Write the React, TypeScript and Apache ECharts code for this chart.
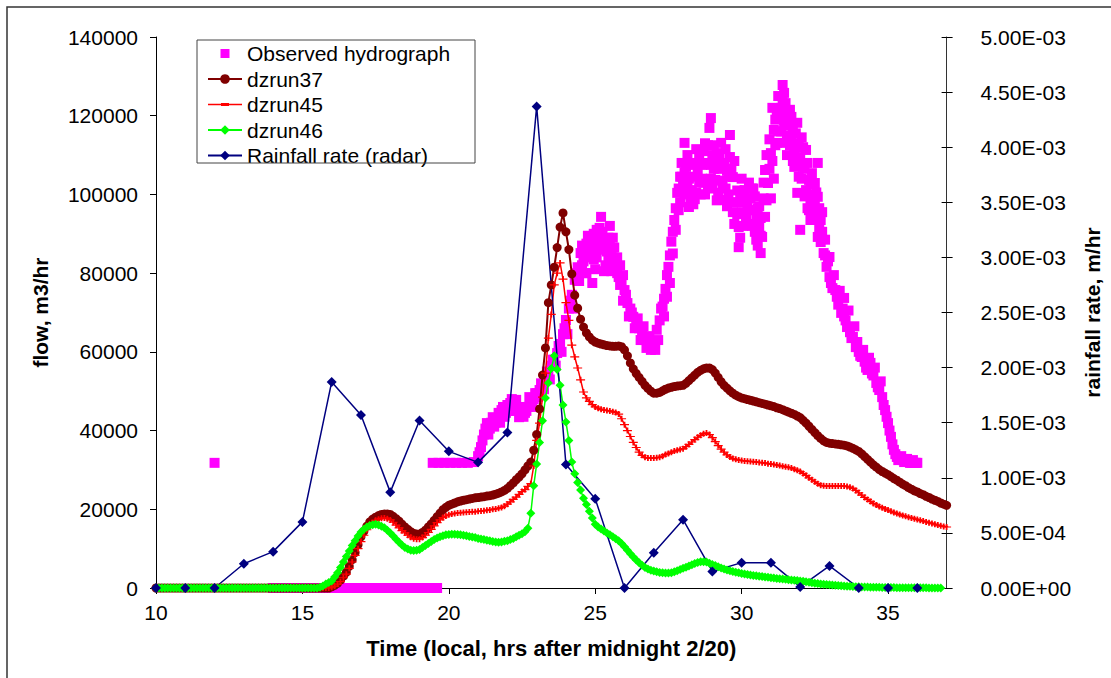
import React, { useEffect, useRef } from "react";
import * as echarts from "echarts";

// ---------- DATA ----------
// model output every 0.1 h from 10.0 to 37.0 (one row = one hour)
const modelTimes = Array.from({ length: 271 }, (_, i) => (100 + i) / 10);

const dzrun37 = [
  0, 0, 0, 0, 0, 0, 0, 0, 0, 0,
  0, 0, 0, 0, 0, 0, 0, 0, 0, 0,
  0, 0, 0, 0, 0, 0, 0, 0, 0, 0,
  0, 0, 0, 0, 0, 0, 0, 0, 0, 0,
  0, 0, 0, 0, 0, 0, 0, 0, 0, 0,
  0, 0, 0, 0, 0, 0, 0, 0, 0, 0,
  300, 700, 1200, 2000, 3000, 4000, 5500, 7200, 9000, 11000,
  13000, 14400, 15700, 16800, 17500, 18000, 18400, 18700, 18800, 18800,
  18700, 18200, 17600, 17000, 16200, 15500, 14900, 14300, 13900, 13700,
  13700, 14100, 14700, 15500, 16300, 17200, 18100, 19000, 19900, 20500,
  21000, 21300, 21600, 21900, 22100, 22300, 22450, 22600, 22750, 22900,
  23000, 23100, 23200, 23350, 23450, 23600, 23850, 24100, 24400, 24800,
  25300, 26000, 26700, 27500, 28200, 29000, 30000, 31000, 32000, 35000,
  39000, 45500, 54100, 61000, 72500, 77000, 81500, 86500, 91700, 95300,
  90500, 86000, 79800, 74400, 71100, 68300, 66300, 64800, 63800, 63000,
  62500, 62200, 62000, 61800, 61600, 61500, 61400, 61400, 61500, 61300,
  60500, 59000, 57200, 55700, 54500, 53500, 52500, 51500, 50700, 50000,
  49500, 49500, 49700, 50100, 50500, 50800, 51000, 51200, 51300, 51400,
  51500, 52000, 52700, 53400, 54100, 54800, 55300, 55700, 55900, 55900,
  55500, 54600, 53500, 52400, 51500, 50800, 50100, 49500, 49000, 48600,
  48300, 48100, 47900, 47700, 47500, 47300, 47100, 46900, 46700, 46500,
  46300, 46100, 45800, 45600, 45300, 45000, 44700, 44400, 44100, 43700,
  43300, 42600, 41900, 41100, 40300, 39500, 38700, 38000, 37400, 37000,
  36800, 36700, 36600, 36500, 36400, 36300, 36100, 35800, 35500, 35100,
  34700, 34100, 33400, 32700, 32000, 31300, 30700, 30100, 29600, 29200,
  28800, 28300, 27800, 27400, 26900, 26400, 26000, 25500, 25100, 24700,
  24400, 24000, 23700, 23300, 23000, 22600, 22300, 22000, 21600, 21300,
  21000,
];

const dzrun45 = [
  0, 0, 0, 0, 0, 0, 0, 0, 0, 0,
  0, 0, 0, 0, 0, 0, 0, 0, 0, 0,
  0, 0, 0, 0, 0, 0, 0, 0, 0, 0,
  0, 0, 0, 0, 0, 0, 0, 0, 0, 0,
  0, 0, 0, 0, 0, 0, 0, 0, 0, 0,
  0, 0, 0, 0, 0, 0, 0, 0, 0, 0,
  200, 500, 1000, 1600, 2600, 3500, 5000, 6600, 8300, 10000,
  11800, 13400, 14800, 15800, 16600, 17200, 17500, 17700, 17800, 17600,
  17300, 16700, 16000, 15300, 14600, 14000, 13400, 12900, 12500, 12400,
  12400, 12800, 13400, 14100, 14900, 15800, 16600, 17300, 17900, 18300,
  18600, 18800, 18950, 19050, 19150, 19200, 19250, 19300, 19350, 19400,
  19500, 19550, 19650, 19750, 19850, 20000, 20100, 20250, 20450, 20800,
  21300, 21900, 22500, 23100, 23800, 24500, 25000, 25800, 26500, 31000,
  37500, 41900, 48500, 54600, 63500, 69500, 77000, 80000, 82600, 78500,
  72500, 68000, 61700, 58700, 55900, 52900, 49800, 48300, 47400, 46600,
  46000, 45700, 45400, 45200, 45100, 45000, 44800, 44600, 44200, 43000,
  41500, 40000, 38500, 37000, 35700, 34500, 33700, 33200, 33000, 33000,
  33000, 33100, 33200, 33500, 33900, 34200, 34500, 34800, 35000, 35200,
  35400, 35900, 36500, 37100, 37700, 38300, 38800, 39200, 39400, 39000,
  38200, 37200, 36200, 35300, 34500, 33800, 33300, 32900, 32700, 32500,
  32400, 32300, 32200, 32150, 32100, 32000, 31900, 31850, 31750, 31600,
  31500, 31400, 31250, 31100, 30950, 30800, 30650, 30500, 30200, 29900,
  29600, 29100, 28600, 28000, 27500, 27000, 26500, 26100, 25950, 25900,
  25900, 25900, 25900, 25900, 25900, 25900, 25800, 25600, 25300, 24800,
  24200, 23600, 23000, 22500, 22000, 21500, 21100, 20700, 20400, 20100,
  19800, 19500, 19200, 18900, 18700, 18400, 18200, 18000, 17800, 17600,
  17400, 17200, 17000, 16800, 16600, 16400, 16200, 16000, 15800, 15650,
  15500,
];

const dzrun46 = [
  0, 0, 0, 0, 0, 0, 0, 0, 0, 0,
  0, 0, 0, 0, 0, 0, 0, 0, 0, 0,
  0, 0, 0, 0, 0, 0, 0, 0, 0, 0,
  0, 0, 0, 0, 0, 0, 0, 0, 0, 0,
  0, 0, 0, 0, 0, 0, 0, 0, 0, 0,
  0, 0, 0, 0, 0, 0, 200, 500, 1000, 1400,
  1800, 2800, 3900, 5200, 6600, 8000, 9400, 10800, 12000, 13200,
  14200, 14900, 15500, 15900, 16100, 16200, 16000, 15700, 15300, 14700,
  14000, 13200, 12400, 11600, 10900, 10300, 9900, 9600, 9500, 9600,
  9800, 10300, 10800, 11300, 11800, 12300, 12700, 13000, 13300, 13500,
  13600, 13650, 13650, 13600, 13500, 13400, 13250, 13100, 12950, 12800,
  12600, 12450, 12300, 12150, 12000, 11800, 11700, 11600, 11700, 11850,
  12000, 12300, 12600, 13000, 13400, 13800, 14300, 15200, 19000, 26000,
  31500, 37000, 42500, 48300, 52100, 55800, 59000, 55500, 51500, 46500,
  42200, 37500, 32000, 29000, 26800, 24900, 22800, 21200, 19500, 17800,
  16200, 15500, 15000, 14500, 14000, 13500, 13000, 12500, 12000, 11300,
  10500, 9600, 8700, 7900, 7100, 6400, 5800, 5200, 4800, 4500,
  4300, 4100, 3950, 3850, 3800, 3800, 3900, 4100, 4400, 4700,
  5000, 5300, 5600, 5900, 6200, 6500, 6650, 6700, 6600, 6300,
  6000, 5700, 5400, 5100, 4850, 4600, 4400, 4200, 4000, 3850,
  3700, 3550, 3450, 3300, 3200, 3100, 3000, 2900, 2800, 2700,
  2600, 2520, 2440, 2360, 2280, 2200, 2120, 2040, 1960, 1880,
  1800, 1700, 1580, 1460, 1340, 1220, 1120, 1040, 960, 880,
  800, 740, 680, 620, 560, 500, 460, 420, 380, 340,
  300, 280, 260, 240, 220, 200, 180, 160, 150, 130,
  120, 110, 100, 90, 85, 80, 70, 60, 55, 50,
  50, 45, 40, 35, 30, 30, 25, 20, 20, null,
  null,
];

const rainTimes = [10, 11, 12, 13, 14, 15, 16, 17, 18, 19, 20, 21, 22, 23, 24, 25, 26, 27, 28, 29, 30, 31, 32, 33, 34, 35, 36];
const rainRate = [
  0, 0, 0, 0.00022, 0.00033, 0.0006, 0.00187, 0.00157, 0.00087, 0.00152, 0.00124, 0.00114, 0.00141, 0.00437,
  0.00112, 0.00081, 0, 0.00032, 0.00062, 0.00015, 0.00023, 0.00023, 0.00001, 0.0002, 0, 0, 0,
];

const observedLow: [number, number][] = [
  [12, 31800],
  [14, 0], [14.2, 0], [14.4, 0], [14.6, 0], [14.8, 0], [15, 0], [15.2, 0], [15.4, 0], [15.6, 0], [15.8, 0],
  [16, 0], [16.2, 0], [16.4, 0], [16.6, 0], [16.8, 0], [17, 0], [17.2, 0], [17.4, 0], [17.6, 0], [17.8, 0],
  [18, 0], [18.2, 0], [18.4, 0], [18.6, 0], [18.8, 0], [19, 0], [19.2, 0], [19.4, 0], [19.6, 0],
  [19.45, 31800], [19.65, 31800], [19.85, 31800], [20.05, 31800], [20.25, 31800], [20.45, 31800], [20.65, 31800], [20.85, 32000], [21.0, 33500],
];

const observedMain: [number, number][] = [
  [21.1, 35800], [21.2, 39000], [21.3, 41900], [21.4, 40500], [21.5, 43400], [21.6, 42000], [21.7, 44500], [21.8, 45200], [21.9, 43500], [22.0, 46500],
  [22.1, 47000], [22.2, 45000], [22.3, 47800], [22.4, 43400], [22.5, 44500], [22.6, 44500], [22.7, 46000], [22.8, 47000], [22.9, 48000], [23.0, 49500],
  [23.1, 50300], [23.2, 51500], [23.3, 53000], [23.4, 54600], [23.5, 56500], [23.6, 58000], [23.7, 59700], [23.8, 62000], [23.9, 64500], [24.0, 68100],
  [24.1, 71000], [24.2, 74500], [24.3, 78300], [24.4, 81500], [24.5, 85100], [24.6, 83000], [24.7, 87500], [24.8, 89200], [24.9, 77500], [25.0, 88000],
  [25.1, 86000], [25.2, 94300], [25.3, 88400], [25.4, 85500], [25.5, 87000], [25.6, 84000], [25.7, 82600], [25.8, 79000], [25.9, 77500], [26.0, 75700],
  [26.1, 72400], [26.2, 71000], [26.3, 68900], [26.4, 67500], [26.5, 66000], [26.6, 65000], [26.7, 63000], [26.8, 62200], [26.9, 60500], [27.0, 62000],
  [27.1, 65600], [27.2, 68000], [27.3, 71500], [27.4, 76000], [27.5, 81600], [27.6, 88000], [27.7, 93500], [27.8, 100400], [27.9, 98000], [28.0, 102900],
  [28.1, 107000], [28.2, 104000], [28.3, 101100], [28.4, 108000], [28.5, 106200], [28.6, 111300], [28.7, 103000], [28.8, 108000], [28.9, 116900], [29.0, 110000],
  [29.1, 103700], [29.2, 100400], [29.3, 113100], [29.4, 98600], [29.5, 106000], [29.6, 109500], [29.7, 104400], [29.8, 98000], [29.9, 91700], [30.0, 95500],
  [30.1, 101100], [30.2, 97800], [30.3, 99000], [30.4, 96000], [30.5, 94300], [30.6, 91700], [30.7, 89200], [30.8, 94300], [30.9, 102900], [31.0, 110500],
  [31.1, 116400], [31.2, 120700], [31.3, 119700], [31.4, 124000], [31.5, 123200], [31.6, 118200], [31.7, 114600], [31.8, 111300], [31.9, 118200], [32.0, 109500],
  [32.1, 107000], [32.2, 111300], [32.3, 103700], [32.4, 105400], [32.5, 102900], [32.6, 99400], [32.7, 93500], [32.8, 85100], [32.9, 81600], [33.0, 79000],
  [33.1, 76200], [33.2, 75700], [33.3, 72000], [33.4, 69900], [33.5, 73700], [33.6, 66300], [33.7, 65000], [33.8, 63800], [33.9, 61200], [34.0, 60000],
  [34.1, 58700], [34.2, 57500], [34.3, 55400], [34.4, 57200], [34.5, 54000], [34.6, 52100], [34.7, 50300], [34.8, 48500], [34.9, 45200], [35.0, 41900],
  [35.1, 38400], [35.2, 35100], [35.3, 33300], [35.4, 33000], [35.5, 32500], [35.6, 32200], [35.7, 32000], [35.8, 31800], [35.9, 31800], [36.0, 31800],
];

const observedMid: [number, number][] = [
  [21.05, 34500], [21.15, 37500], [21.25, 40500], [21.35, 39000], [21.45, 42000], [21.55, 41000], [21.65, 43000], [21.75, 42000], [21.85, 46000], [21.95, 44500],
  [22.05, 45000], [22.15, 48000], [22.25, 46000], [22.35, 45500], [22.45, 46000], [22.55, 43500], [22.65, 45000], [22.75, 48500], [22.85, 46000], [22.95, 49500],
  [23.05, 48500], [23.15, 52000], [23.25, 50500], [23.35, 55000], [23.45, 53000], [23.55, 58000], [23.65, 56500], [23.75, 61500], [23.85, 60000], [23.95, 66000],
  [24.05, 64500], [24.15, 73000], [24.25, 71000], [24.35, 80000], [24.45, 78000], [24.55, 87000], [24.65, 80000], [24.75, 89500], [24.85, 84500], [24.95, 90000],
  [25.05, 84000], [25.15, 91500], [25.25, 86500], [25.35, 82000], [25.45, 89000], [25.55, 80500], [25.65, 86500], [25.75, 80000], [25.85, 82000], [25.95, 73000],
  [26.05, 74500], [26.15, 69000], [26.25, 70000], [26.35, 66000], [26.45, 68500], [26.55, 63000], [26.65, 66500], [26.75, 61000], [26.85, 64000], [26.95, 61500],
  [27.05, 60500], [27.15, 63000], [27.25, 71000], [27.35, 69000], [27.45, 79500], [27.55, 77500], [27.65, 85000], [27.75, 91000], [27.85, 96000], [27.95, 104500],
  [28.05, 100000], [28.15, 110000], [28.25, 99000], [28.35, 104500], [28.45, 100500], [28.55, 109500], [28.65, 104000], [28.75, 113000], [28.85, 102000], [28.95, 107500],
  [29.05, 112500], [29.15, 98500], [29.25, 109000], [29.35, 102500], [29.45, 111500], [29.55, 100000], [29.65, 106500], [29.75, 92500], [29.85, 101000], [29.95, 89000],
  [30.05, 98000], [30.15, 94500], [30.25, 103000], [30.35, 92000], [30.45, 99500], [30.55, 87000], [30.65, 94000], [30.75, 99000], [30.85, 110000], [30.95, 106500],
  [31.05, 122000], [31.15, 112500], [31.25, 125000], [31.35, 116000], [31.45, 120500], [31.55, 110000], [31.65, 121500], [31.75, 108500], [31.85, 115500], [31.95, 104500],
  [32.05, 114500], [32.15, 99500], [32.25, 108000], [32.35, 98500], [32.45, 100000], [32.55, 94000], [32.65, 96500], [32.75, 90500], [32.85, 88500], [32.95, 83000],
  [33.05, 77500], [33.15, 79500], [33.25, 74000], [33.35, 75500], [33.45, 71000], [33.55, 68000], [33.65, 70500], [33.75, 63500], [33.85, 66500], [33.95, 62500],
  [34.05, 59000], [34.15, 60500], [34.25, 56000], [34.35, 58500], [34.45, 54500], [34.55, 56000], [34.65, 51000], [34.75, 52500], [34.85, 46500], [34.95, 43500],
  [35.05, 40000], [35.15, 36500], [35.25, 34000], [35.35, 32500], [35.45, 33500], [35.55, 32000], [35.65, 32800], [35.75, 31800], [35.85, 32500], [35.95, 31800],
];

const observedScatter: [number, number][] = [
  [24.7, 80000], [24.9, 86000], [25.0, 81000], [25.3, 80500], [25.5, 92000], [25.6, 89000],
  [27.9, 104500], [28.05, 113100], [28.2, 96800], [28.4, 98800], [28.6, 100000], [28.7, 111000], [28.95, 119400],
  [29.0, 101500], [29.2, 106500], [29.4, 107500], [29.5, 97000], [29.6, 115100], [29.7, 95500], [29.9, 86600],
  [30.0, 104000], [30.2, 92500], [30.4, 101500], [30.5, 88500], [30.65, 85100], [30.6, 97000], [30.8, 106200],
  [31.0, 99000], [31.1, 104000], [31.2, 113100], [31.4, 127800], [31.45, 125800], [31.5, 113100], [31.7, 119700],
  [31.8, 107000], [31.9, 100400], [32.0, 91000], [32.1, 112000], [32.2, 101100], [32.3, 96000], [32.35, 93500],
  [32.5, 97800], [32.6, 108000], [32.6, 89200], [32.7, 87900], [33.0, 84100], [33.5, 69000],
];

const observedFill: [number, number][] = [
  [24.55, 82000], [24.65, 85500], [24.75, 84000], [24.85, 87500], [24.95, 83500], [25.05, 91000], [25.15, 88500], [25.25, 90500],
  [25.35, 86000], [25.45, 83500], [25.55, 84500], [25.65, 81500], [25.75, 84000], [25.85, 77000], [25.95, 79500],
  [27.35, 73500], [27.45, 74000], [27.55, 84500], [27.65, 90500],
  [27.75, 96500], [27.85, 101500], [27.95, 108000], [28.05, 105500], [28.15, 102000], [28.25, 107500], [28.35, 97500], [28.45, 111500],
  [28.55, 103000], [28.65, 107500], [28.75, 100000], [28.85, 112500], [28.95, 104000], [29.05, 106500], [29.15, 110500], [29.25, 103500],
  [29.35, 108000], [29.45, 101500], [29.55, 104500], [29.65, 98000], [29.75, 108500], [29.85, 95000], [29.95, 99500], [30.05, 92000],
  [30.15, 99000], [30.25, 96000], [30.35, 101500], [30.45, 90500], [30.55, 96500], [30.65, 89500], [30.75, 103000], [30.85, 98500],
  [30.95, 114000], [31.05, 108500], [31.15, 119000], [31.25, 116000], [31.35, 122000], [31.45, 117500], [31.55, 115000], [31.65, 112500],
  [31.75, 116500], [31.85, 109000], [31.95, 113000], [32.05, 104000], [32.15, 106500], [32.25, 96500], [32.35, 102500], [32.45, 95500],
  [32.55, 100500], [32.65, 91500], [32.75, 95500], [32.85, 84500],
];

const seriesNames = ["Observed hydrograph", "dzrun37", "dzrun45", "dzrun46", "Rainfall rate (radar)"];
const xTitle = "Time (local, hrs after midnight 2/20)";
const yLeftTitle = "flow, m3/hr";
const yRightTitle = "rainfall rate, m/hr";

// ---------- HELPERS ----------
const FONT = "'Liberation Sans', Arial, sans-serif";
const sci = (v: number) => {
  const s = v.toExponential(2);
  const [m, e] = s.split("e");
  const n = Math.abs(parseInt(e, 10));
  const sign = e.startsWith("-") ? "-" : "+";
  return `${m}E${sign}${n < 10 ? "0" + n : n}`;
};
const zip = (t: number[], v: (number | null)[]) =>
  t.map((x, i) => [x, v[i]]).filter((p) => p[1] !== null && p[1] !== undefined);

const PLUS = "path://M0,3.2L8,3.2L8,4.8L0,4.8Z M3.2,0L4.8,0L4.8,8L3.2,8Z";
const LEG_SQUARE = "path://M0,0M34,12M12.5,1.5L21.5,1.5L21.5,10.5L12.5,10.5Z";
const LEG_DASH = "path://M0,0M34,12M0,5.2L34,5.2L34,6.8L0,6.8Z M13,4.5L21,4.5L21,7.5L13,7.5Z";

export default function App() {
  const ref = useRef<HTMLDivElement>(null);
  useEffect(() => {
    if (!ref.current) return;
    const chart = echarts.init(ref.current, undefined, { renderer: "svg" });
    chart.setOption({
      animation: false,
      backgroundColor: "#ffffff",
      textStyle: { fontFamily: FONT },
      graphic: [
        {
          type: "rect",
          shape: { x: 7, y: 7, width: 1120, height: 700 },
          style: { fill: "none", stroke: "#333", lineWidth: 1.5 },
          silent: true,
          z: -10,
        },
        {
          type: "rect",
          shape: { x: 197, y: 40, width: 278, height: 123 },
          style: { fill: "none", stroke: "#444", lineWidth: 1 },
          silent: true,
          z: 100,
        },
      ],
      grid: { left: 156, right: 162, top: 37, bottom: 90, containLabel: false },
      legend: {
        orient: "vertical",
        left: 197,
        top: 40,
        padding: [3, 16, 3, 10],
        itemWidth: 34,
        itemHeight: 12,
        itemGap: 4.5,
        borderWidth: 0,
        backgroundColor: "transparent",
        textStyle: { fontSize: 21, color: "#000", fontFamily: FONT, lineHeight: 20 },
        data: [
          { name: seriesNames[0], icon: LEG_SQUARE, itemStyle: { opacity: 1 } },
          { name: seriesNames[1] },
          { name: seriesNames[2], icon: LEG_DASH },
          { name: seriesNames[3] },
          { name: seriesNames[4] },
        ],
      },
      xAxis: {
        type: "value",
        min: 10,
        max: 37,
        interval: 5,
        axisLine: { show: true, onZero: false, lineStyle: { color: "#000", width: 1 } },
        axisTick: { show: true, length: 6, lineStyle: { color: "#000" } },
        axisLabel: { fontSize: 21, color: "#000", margin: 14, showMaxLabel: false, fontFamily: FONT },
        splitLine: { show: false },
        name: xTitle,
        nameLocation: "middle",
        nameGap: 49,
        nameTextStyle: { fontSize: 22, fontWeight: "bold", color: "#000", fontFamily: FONT },
      },
      yAxis: [
        {
          type: "value",
          min: 0,
          max: 140000,
          interval: 20000,
          position: "left",
          axisLine: { show: true, lineStyle: { color: "#000", width: 1 } },
          axisTick: { show: true, length: 6, lineStyle: { color: "#000" } },
          axisLabel: { fontSize: 21, color: "#000", margin: 18, formatter: (v: number) => String(v), fontFamily: FONT },
          splitLine: { show: false },
          name: yLeftTitle,
          nameLocation: "middle",
          nameGap: 105,
          nameTextStyle: { fontSize: 21, fontWeight: "bold", color: "#000", fontFamily: FONT },
        },
        {
          type: "value",
          min: 0,
          max: 0.005,
          interval: 0.0005,
          position: "right",
          offset: 0,
          axisLine: { show: true, lineStyle: { color: "#333", width: 1 } },
          axisTick: { show: true, length: 6, lineStyle: { color: "#000" } },
          axisLabel: { fontSize: 21, color: "#000", margin: 34, formatter: (v: number) => sci(v), fontFamily: FONT },
          splitLine: { show: false },
          name: yRightTitle,
          nameLocation: "middle",
          nameGap: 128,
          nameTextStyle: { fontSize: 21, fontWeight: "bold", color: "#000", fontFamily: FONT },
        },
        {
          type: "value",
          min: 0,
          max: 0.005,
          interval: 0.0005,
          position: "right",
          offset: 0,
          axisLine: { show: false },
          axisTick: { show: true, inside: true, length: 5, lineStyle: { color: "#000" } },
          axisLabel: { show: false },
          splitLine: { show: false },
        },
      ],
      series: [
        {
          name: seriesNames[0],
          type: "scatter",
          symbol: "rect",
          symbolSize: 10,
          itemStyle: { color: "#FF00FF", opacity: 1 },
          data: [...observedLow, ...observedMain, ...observedMid, ...observedScatter, ...observedFill],
        },
        {
          name: seriesNames[1],
          type: "line",
          symbol: "circle",
          symbolSize: 9,
          showAllSymbol: true,
          lineStyle: { color: "#800000", width: 2 },
          itemStyle: { color: "#800000" },
          data: zip(modelTimes, dzrun37),
        },
        {
          name: seriesNames[2],
          type: "line",
          symbol: PLUS,
          symbolSize: [9, 6],
          showAllSymbol: true,
          lineStyle: { color: "#FF0000", width: 1.5 },
          itemStyle: { color: "#FF0000" },
          data: zip(modelTimes, dzrun45),
        },
        {
          name: seriesNames[3],
          type: "line",
          symbol: "diamond",
          symbolSize: 9,
          showAllSymbol: true,
          lineStyle: { color: "#00FF00", width: 1.5 },
          itemStyle: { color: "#00FF00" },
          data: zip(modelTimes, dzrun46),
        },
        {
          name: seriesNames[4],
          type: "line",
          yAxisIndex: 1,
          symbol: "diamond",
          symbolSize: 10,
          lineStyle: { color: "#000080", width: 1.5 },
          itemStyle: { color: "#000080" },
          data: zip(rainTimes, rainRate),
        },
      ],
    });
    return () => chart.dispose();
  }, []);
  return (
    <div
      ref={ref}
      style={{ position: "fixed", left: 0, top: 0, width: 1111, height: 678, background: "#fff" }}
    />
  );
}
